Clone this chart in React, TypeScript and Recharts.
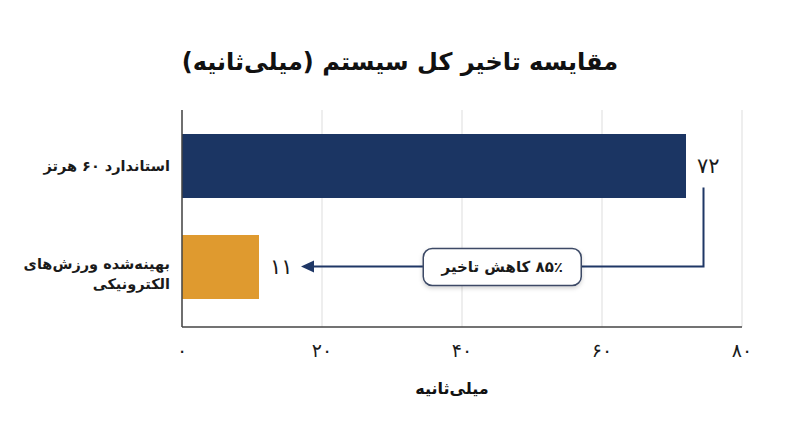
import React from "react";
import {
  BarChart,
  Bar,
  XAxis,
  YAxis,
  CartesianGrid,
  Cell,
  LabelList,
  ReferenceLine,
} from "recharts";

const categories = ["استاندارد ۶۰ هرتز", "بهینه‌شده ورزش‌های الکترونیکی"];
const latencyMs = [72, 11];
const barColors = ["#1b3563", "#df9a2f"];
const xTicks = [0, 20, 40, 60, 80];

// annotation elbow: drops from near the 72 label, points at the 11 label
const arrowFromX = 74.5;
const arrowToX = 17;

const FONT = "'DejaVu Sans', 'Noto Sans', sans-serif";
const NAVY = "#1f3766";

const toFa = (n: number | string) =>
  String(n).replace(/\d/g, (d) => "۰۱۲۳۴۵۶۷۸۹"[Number(d)]);

const reduction = Math.round(((latencyMs[0] - latencyMs[1]) / latencyMs[0]) * 100);

const data = categories.map((name, i) => ({ name, value: latencyMs[i] }));

// split long labels at the last space
const wrap = (s: string) => {
  if (s.length <= 20) return [s];
  const i = s.lastIndexOf(" ");
  return [s.slice(0, i), s.slice(i + 1)];
};

const CategoryTick = (props: any) => {
  const { x, y, payload } = props;
  const lines = wrap(payload.value);
  const startY = lines.length > 1 ? y - 3 : y;
  return (
    <g>
      {lines.map((line, i) => (
        <text
          key={i}
          x={x - 4}
          y={startY + i * 20}
          dy="0.35em"
          textAnchor="end"
          fontFamily={FONT}
          fontWeight="bold"
          fontSize={14.5}
          fill="#1a1a1a"
        >
          {line}
        </text>
      ))}
    </g>
  );
};

const ArrowShape = (props: any) => {
  const { x1, y1, x2, y2 } = props;
  if (x1 == null) return null;
  const top = y1 + 22;
  const mid = (x1 + x2) / 2;
  return (
    <g>
      <defs>
        <filter id="boxShadow" x="-20%" y="-40%" width="140%" height="180%">
          <feDropShadow dx="0" dy="2" stdDeviation="2" floodColor="#000" floodOpacity="0.18" />
        </filter>
      </defs>
      <path
        d={`M${x1},${top} V${y2} H${x2 + 10}`}
        stroke={NAVY}
        strokeWidth={2}
        fill="none"
      />
      <polygon
        points={`${x2},${y2} ${x2 + 13},${y2 - 6} ${x2 + 13},${y2 + 6}`}
        fill={NAVY}
      />
      <rect
        x={mid - 79}
        y={y2 - 18}
        width={158}
        height={37}
        rx={9}
        fill="#fff"
        stroke="#3c4a66"
        strokeWidth={1.5}
        filter="url(#boxShadow)"
      />
      <text
        x={mid}
        y={y2}
        dy="0.35em"
        textAnchor="middle"
        direction="rtl"
        fontFamily={FONT}
        fontWeight="bold"
        fontSize={15}
        fill="#1a1a1a"
      >
        {`${toFa(reduction)}٪ کاهش تاخیر`}
      </text>
    </g>
  );
};

export default function App() {
  return (
    <div style={{ position: "relative", width: 800, height: 447, background: "#fff" }}>
      <style>{`body{margin:0}`}</style>
      <div
        dir="rtl"
        style={{
          position: "absolute",
          top: 42,
          left: 0,
          width: 800,
          textAlign: "center",
          fontFamily: FONT,
          fontWeight: "bold",
          fontSize: 24,
          lineHeight: "40px",
          color: "#111",
        }}
      >
        مقایسه تاخیر کل سیستم (میلی‌ثانیه)
      </div>
      <BarChart
        width={800}
        height={447}
        data={data}
        layout="vertical"
        margin={{ top: 110, right: 58, bottom: 90, left: 10 }}
      >
        <CartesianGrid horizontal={false} stroke="#dddddd" />
        <XAxis
          type="number"
          domain={[0, 80]}
          ticks={xTicks}
          tickFormatter={toFa}
          tickLine={false}
          tickMargin={11}
          axisLine={{ stroke: "#444", strokeWidth: 1.5 }}
          tick={{ fill: "#1a1a1a", fontSize: 19, fontFamily: FONT }}
          height={30}
        />
        <YAxis
          type="category"
          dataKey="name"
          width={172}
          tickLine={false}
          axisLine={{ stroke: "#444", strokeWidth: 1.5 }}
          padding={{ top: 5, bottom: 10 }}
          tick={<CategoryTick />}
          interval={0}
        />
        <Bar dataKey="value" barSize={64} isAnimationActive={false}>
          {data.map((_d, i) => (
            <Cell key={`cell-${i}`} fill={barColors[i]} />
          ))}
          <LabelList
            dataKey="value"
            position="right"
            offset={11}
            formatter={(v: any) => toFa(v)}
            fill="#1a1a1a"
            fontSize={21}
            fontFamily={FONT}
          />
        </Bar>
        <ReferenceLine
          segment={[
            { x: arrowFromX, y: categories[0] },
            { x: arrowToX, y: categories[1] },
          ]}
          ifOverflow="visible"
          shape={ArrowShape}
        />
      </BarChart>
      <div
        dir="rtl"
        style={{
          position: "absolute",
          top: 374,
          left: 352,
          width: 200,
          textAlign: "center",
          fontFamily: FONT,
          fontWeight: "bold",
          fontSize: 16,
          lineHeight: "30px",
          color: "#111",
        }}
      >
        میلی‌ثانیه
      </div>
    </div>
  );
}
